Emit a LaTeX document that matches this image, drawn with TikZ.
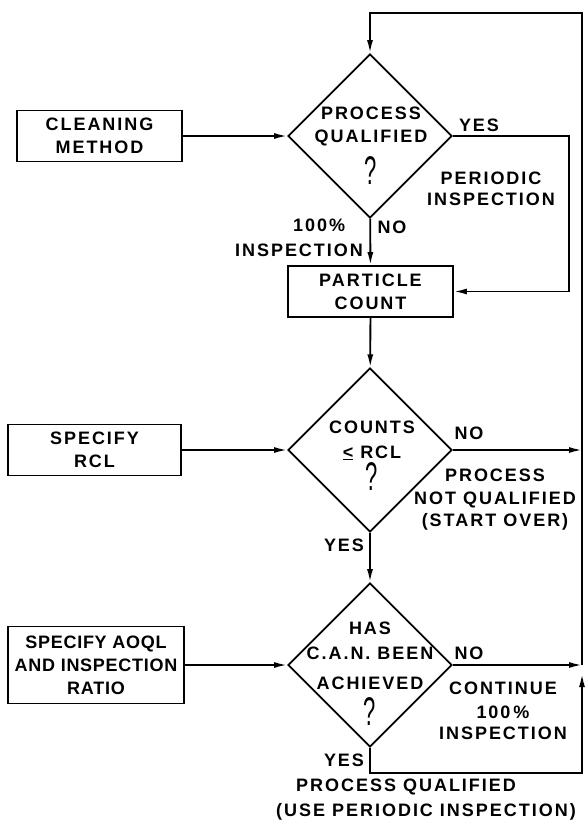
\documentclass[tikz,border=0pt]{standalone}
\usepackage{fontspec}
\newfontfamily\letterfont[LetterSpace=11]{Liberation Sans}
\newfontfamily\tightfont[LetterSpace=4]{Liberation Sans}
\usepackage{tikz}
\usetikzlibrary{arrows.meta,shapes.geometric}

\newcommand\bigq{\scalebox{0.55}[1]{\mdseries\fontsize{40}{40}\selectfont ?}}

\begin{document}
\begin{tikzpicture}[
  x=1pt,y=-1pt,
  lettering/.style={font=\letterfont\bfseries\fontsize{18}{23}\selectfont},
  box/.style={draw, lettering, line width=1.8pt, align=center, minimum height=51pt, inner sep=0pt},
  decision/.style={draw, diamond, line width=1.8pt, minimum width=164pt, minimum height=164pt, inner sep=0pt},
  txt/.style={lettering, align=center, inner sep=0pt},
  arrow/.style={-{Latex[length=13pt,width=6pt]}, line width=1.8pt},
  line/.style={line width=1.8pt}
]
\useasboundingbox (0,0) rectangle (584,822);

% left column
\node[box, minimum width=165pt] (clean) at (99.5,136) {CLEANING\\METHOD};
\node[box, minimum width=173pt] (rcl) at (94.5,450) {SPECIFY\\RCL};
\node[box, minimum width=176pt, minimum height=77pt, font=\tightfont\bfseries\fontsize{18}{23}\selectfont] (aoql) at (96,665) {SPECIFY AOQL\\AND INSPECTION\\RATIO};

% main column
\node[decision] (qual) at (370,136) {};
\node[txt, anchor=north] (qualtext) at (371,106.5) {PROCESS\\QUALIFIED\\[10pt]\bigq};
\node[box, minimum width=165pt] (count) at (370.5,291.5) {PARTICLE\\COUNT};
\node[decision] (counts) at (370,450) {};
\node[txt, anchor=north] (countstext) at (372,420.5) {COUNTS\\[2pt]\underline{<}\ RCL\\[1pt]\bigq};
\node[decision] (achv) at (370,665) {};
\node[txt, anchor=north] (achvtext) at (370,621.5) {HAS\\[2pt]C.A.N. BEEN\\[7pt]ACHIEVED\\[7pt]\bigq};
\coordinate (rail) at (582,13);

% labels
\node[txt] (yes1) at (479,125) {YES};
\node[txt] (periodic) at (491,188.5) {PERIODIC\\[-2pt]INSPECTION};
\node[txt, align=left] (full1) at (299,237.5) {\hspace*{58pt}100\%\\[2pt]INSPECTION};
\node[txt] (no1) at (392,227) {NO};
\node[txt] (no2) at (469,433) {NO};
\node[txt] (notqual) at (495,500) {PROCESS\\NOT QUALIFIED\\[-1pt](START OVER)};
\node[txt] (yes2) at (344,545) {YES};
\node[txt] (no3) at (469,653) {NO};
\node[txt] (cont) at (503,711) {CONTINUE\\[1pt]100\,\%\\[-2pt]INSPECTION};
\node[txt] (yes3) at (344,760) {YES};
\node[txt, align=left] (qualified) at (426,800) {\hspace*{20pt}PROCESS QUALIFIED\\[2pt](USE PERIODIC INSPECTION)};

% connectors
\draw[arrow] (clean) -- (qual);
\draw[arrow] (rcl) -- (counts);
\draw[arrow] (aoql) -- (achv);
\draw[arrow] (qual) -- (count);
\draw[arrow] (qual.east) -- ++(116,0) |- (count.east);
\draw[arrow] (count) -- (counts);
\draw[arrow] (counts) -- (achv);
\draw[arrow] (counts.east) -- (rail |- counts.east);
\draw[arrow] (achv.east) -- (rail |- achv.east);
\draw[arrow, shorten >=9pt] (achv.south) -- ++(0,25) -| (rail |- achv.east);
\draw[arrow] (rail |- achv.east) -- (rail) -| (qual.north);
\end{tikzpicture}
\end{document}
